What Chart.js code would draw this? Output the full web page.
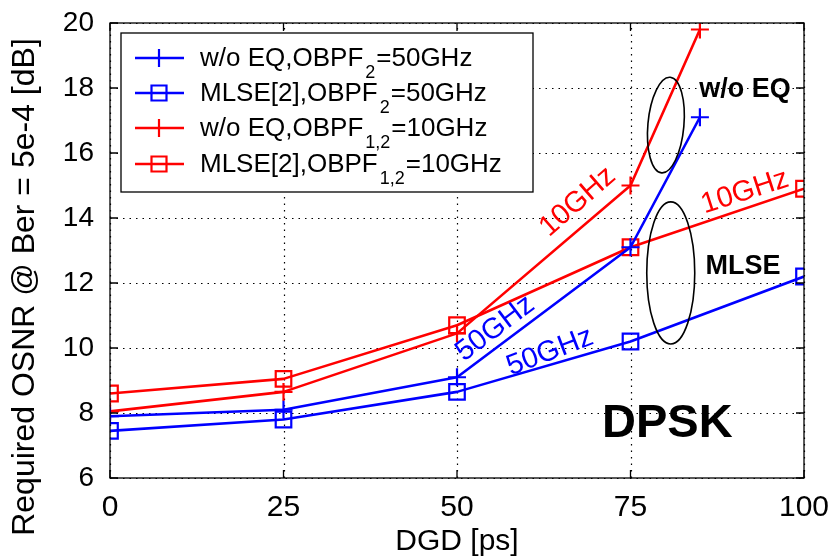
<!DOCTYPE html>
<html>
<head>
<meta charset="utf-8">
<script src="https://cdn.jsdelivr.net/npm/chart.js@4/dist/chart.umd.min.js"></script>
<style>
  html, body { margin: 0; padding: 0; background: #fff; }
  #wrap { width: 833px; height: 557px; }
</style>
</head>
<body>
<div id="wrap"><canvas id="c" width="833" height="557"></canvas></div>
<script>
// DGD values (ps) for each curve
const dgdWoEq = [0, 25, 50, 75, 85];
const dgdMlse = [0, 25, 50, 75, 100];

// Required OSNR (dB) at BER = 5e-4
const woEq50 = [7.9, 8.1, 9.1, 13.1, 17.1];
const mlse50 = [7.45, 7.8, 8.65, 10.2, 12.2];
const woEq10 = [8.05, 8.65, 10.45, 15.0, 19.8];
const mlse10 = [8.6, 9.05, 10.7, 13.1, 14.9];

// Axis ticks
const xTicks = [0, 25, 50, 75, 100];
const yTicks = [6, 8, 10, 12, 14, 16, 18, 20];

// Legend entries: main text, subscript, trailing text
const legendParts = [
  ['w/o EQ,OBPF', '2', '=50GHz'],
  ['MLSE[2],OBPF', '2', '=50GHz'],
  ['w/o EQ,OBPF', '1,2', '=10GHz'],
  ['MLSE[2],OBPF', '1,2', '=10GHz']
];

const BLUE = '#0000ff';
const RED = '#ff0000';
const FONT = '"Liberation Sans", Arial, sans-serif';

function pts(xs, ys) { return xs.map((x, i) => ({ x: x, y: ys[i] })); }

function series(data, color, style) {
  return {
    data: data,
    borderColor: color,
    backgroundColor: 'rgba(0,0,0,0)',
    borderWidth: 2.6,
    pointStyle: style,
    pointRadius: style === 'cross' ? 9 : 11,
    pointBorderWidth: 2.2,
    pointBorderColor: color,
    pointBackgroundColor: 'rgba(0,0,0,0)',
    tension: 0,
    fill: false
  };
}

// Dotted grid lines inside the plot box
const dottedGrid = {
  id: 'dottedGrid',
  beforeDatasetsDraw(chart) {
    const ctx = chart.ctx;
    const a = chart.chartArea;
    const xs = chart.scales.x, ys = chart.scales.y;
    ctx.save();
    ctx.strokeStyle = '#000';
    ctx.lineWidth = 1.2;
    ctx.setLineDash([1.5, 5]);
    ctx.beginPath();
    xTicks.forEach(v => {
      const px = Math.round(xs.getPixelForValue(v)) + 0.5;
      ctx.moveTo(px, a.bottom); ctx.lineTo(px, a.top);
    });
    yTicks.forEach(v => {
      const py = Math.round(ys.getPixelForValue(v)) + 0.5;
      ctx.moveTo(a.left, py); ctx.lineTo(a.right, py);
    });
    ctx.stroke();
    ctx.restore();
  }
};

// Frame, inner ticks, axis titles, legend and annotations
const decorations = {
  id: 'decorations',
  afterDatasetsDraw(chart) {
    const ctx = chart.ctx;
    const a = chart.chartArea;
    const xs = chart.scales.x, ys = chart.scales.y;
    ctx.save();

    // box frame
    ctx.strokeStyle = '#000';
    ctx.lineWidth = 1.3;
    ctx.strokeRect(a.left, a.top, a.right - a.left, a.bottom - a.top);

    // inward tick marks on all four sides
    const tl = 8;
    ctx.beginPath();
    xTicks.forEach(v => {
      const px = xs.getPixelForValue(v);
      ctx.moveTo(px, a.bottom); ctx.lineTo(px, a.bottom - tl);
      ctx.moveTo(px, a.top); ctx.lineTo(px, a.top + tl);
    });
    yTicks.forEach(v => {
      const py = ys.getPixelForValue(v);
      ctx.moveTo(a.left, py); ctx.lineTo(a.left + tl, py);
      ctx.moveTo(a.right, py); ctx.lineTo(a.right - tl, py);
    });
    ctx.stroke();

    // annotation ellipses
    function ellipse(xv, yv, rx, ry, rot) {
      ctx.beginPath();
      ctx.ellipse(xs.getPixelForValue(xv), ys.getPixelForValue(yv), rx, ry, rot, 0, Math.PI * 2);
      ctx.lineWidth = 1.6;
      ctx.strokeStyle = '#000';
      ctx.stroke();
    }
    ellipse(80.1, 16.86, 18, 48, 0.09);
    ellipse(80.8, 12.31, 24, 71, 0);

    // rotated band labels
    function label(text, xv, yv, deg, color, size) {
      ctx.save();
      ctx.translate(xs.getPixelForValue(xv), ys.getPixelForValue(yv));
      ctx.rotate(-deg * Math.PI / 180);
      ctx.font = size + 'px ' + FONT;
      ctx.fillStyle = color;
      ctx.textAlign = 'center';
      ctx.textBaseline = 'middle';
      ctx.fillText(text, 0, 0);
      ctx.restore();
    }
    label('10GHz', 67.4, 14.5, 41, RED, 29);
    label('10GHz', 91.5, 14.8, 18, RED, 29);
    label('50GHz', 55.5, 10.6, 37, BLUE, 29);
    label('50GHz', 63.4, 9.88, 21, BLUE, 29);

    // bold group labels
    ctx.fillStyle = '#000';
    ctx.textAlign = 'center';
    ctx.textBaseline = 'middle';
    ctx.font = 'bold 27px ' + FONT;
    ctx.fillText('w/o EQ', xs.getPixelForValue(91.5), ys.getPixelForValue(17.95));
    ctx.fillText('MLSE', xs.getPixelForValue(91.2), ys.getPixelForValue(12.5));
    ctx.font = 'bold 47px ' + FONT;
    ctx.fillText('DPSK', xs.getPixelForValue(80.3), ys.getPixelForValue(7.65));

    // axis titles
    ctx.font = '30px ' + FONT;
    ctx.textAlign = 'center';
    ctx.textBaseline = 'alphabetic';
    ctx.fillText('DGD [ps]', (a.left + a.right) / 2, 550);
    ctx.save();
    ctx.translate(34, 287);
    ctx.rotate(-Math.PI / 2);
    ctx.font = '32px ' + FONT;
    ctx.fillText('Required OSNR @ Ber = 5e-4 [dB]', 0, 0);
    ctx.restore();

    // legend box
    const lx = 121, ly = 33, lw = 412, lh = 159;
    ctx.fillStyle = '#fff';
    ctx.fillRect(lx, ly, lw, lh);
    ctx.strokeStyle = '#000';
    ctx.lineWidth = 1.3;
    ctx.strokeRect(lx, ly, lw, lh);
    const rowY = [58, 93, 128, 164];
    chart.data.datasets.forEach((ds, i) => {
      const y = rowY[i];
      ctx.strokeStyle = ds.borderColor;
      ctx.lineWidth = 2.6;
      ctx.beginPath();
      ctx.moveTo(135, y); ctx.lineTo(184, y);
      ctx.stroke();
      ctx.lineWidth = 2.2;
      ctx.beginPath();
      if (ds.pointStyle === 'cross') {
        ctx.moveTo(159, y - 9); ctx.lineTo(159, y + 9);
      } else {
        ctx.rect(159 - 7.5, y - 7.5, 15, 15);
      }
      ctx.stroke();
      const [main, sub, rest] = legendParts[i];
      ctx.fillStyle = '#000';
      ctx.textAlign = 'left';
      ctx.textBaseline = 'alphabetic';
      ctx.font = '26px ' + FONT;
      let x = 200;
      ctx.fillText(main, x, y + 8);
      x += ctx.measureText(main).width + 2;
      ctx.font = '18px ' + FONT;
      ctx.fillText(sub, x, y + 20);
      x += ctx.measureText(sub).width + 1;
      ctx.font = '26px ' + FONT;
      ctx.fillText(rest, x, y + 8);
    });

    ctx.restore();
  }
};

new Chart(document.getElementById('c'), {
  type: 'line',
  data: {
    datasets: [
      series(pts(dgdWoEq, woEq50), BLUE, 'cross'),
      series(pts(dgdMlse, mlse50), BLUE, 'rect'),
      series(pts(dgdWoEq, woEq10), RED, 'cross'),
      series(pts(dgdMlse, mlse10), RED, 'rect')
    ]
  },
  options: {
    responsive: false,
    animation: false,
    layout: { padding: { top: 23, right: 29, left: 0, bottom: 0 } },
    plugins: { legend: { display: false }, tooltip: { enabled: false } },
    elements: { line: { borderJoinStyle: 'round' } },
    scales: {
      x: {
        type: 'linear',
        min: 0, max: 100,
        offset: false,
        afterFit(s) { s.height = 79; s.paddingLeft = 0; s.paddingRight = 0; },
        afterBuildTicks(s) { s.ticks = xTicks.map(v => ({ value: v })); },
        grid: { display: false, drawTicks: false },
        border: { display: false },
        ticks: { color: '#000', font: { family: FONT, size: 30 }, padding: 12, maxRotation: 0 }
      },
      y: {
        type: 'linear',
        min: 6, max: 20,
        afterFit(s) { s.width = 110; s.paddingTop = 0; s.paddingBottom = 0; },
        afterBuildTicks(s) { s.ticks = yTicks.map(v => ({ value: v })); },
        grid: { display: false, drawTicks: false },
        border: { display: false },
        ticks: { color: '#000', font: { family: FONT, size: 28 }, padding: 16 }
      }
    }
  },
  plugins: [dottedGrid, decorations]
});
</script>
</body>
</html>
